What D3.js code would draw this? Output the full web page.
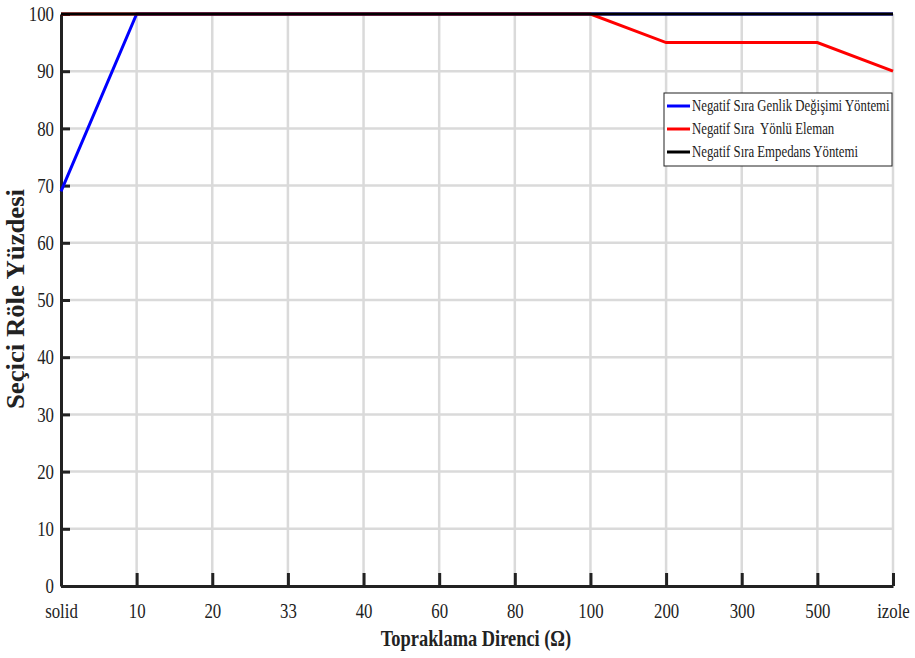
<!DOCTYPE html>
<html><head><meta charset="utf-8">
<script src="https://cdn.jsdelivr.net/npm/d3@7"></script>
<style>body{margin:0;background:#fff}</style>
</head><body><svg id="c" width="915" height="658"></svg>
<script>
const categories = ["solid","10","20","33","40","60","80","100","200","300","500","izole"];
const genlik = [69,100,100,100,100,100,100,100,100,100,100,100];
const yonlu = [100,100,100,100,100,100,100,100,95,95,95,90];
const empedans = [100,100,100,100,100,100,100,100,100,100,100,100];
const yTicks = [0,10,20,30,40,50,60,70,80,90,100];
const seriesNames = ["Negatif Sıra Genlik Değişimi Yöntemi","Negatif Sıra  Yönlü Eleman","Negatif Sıra Empedans Yöntemi"];
const seriesColors = ["#0000ff","#ff0000","#000000"];

const FONT = "Liberation Serif";
const SX = 0.8;
const m = {l:61, t:14, r:22, b:72};
const W = 915 - m.l - m.r, H = 658 - m.t - m.b;
const svg = d3.select("#c");
const g = svg.append("g").attr("transform",`translate(${m.l},${m.t})`);
const x = d3.scalePoint().domain(categories).range([0,W]);
const y = d3.scaleLinear().domain([0,100]).range([H,0]);

// grid
g.append("g").selectAll("line").data(categories.slice(1)).join("line")
  .attr("x1",d=>x(d)).attr("x2",d=>x(d)).attr("y1",0).attr("y2",H)
  .attr("stroke","#dadada").attr("stroke-width",2.5);
g.append("g").selectAll("line").data(yTicks.slice(1)).join("line")
  .attr("x1",0).attr("x2",W).attr("y1",d=>y(d)).attr("y2",d=>y(d))
  .attr("stroke","#dadada").attr("stroke-width",2.5);

// axes
const ax = g.append("g").attr("transform",`translate(0,${H})`)
  .call(d3.axisBottom(x).tickSizeInner(-13).tickSizeOuter(0).tickPadding(20));
const ay = g.append("g").call(d3.axisLeft(y).tickValues(yTicks).tickSizeInner(-9).tickSizeOuter(0).tickPadding(7));
[ax,ay].forEach(a=>{
  a.attr("font-family",FONT);
  a.select(".domain").attr("stroke","#222").attr("stroke-width",3);
  a.selectAll(".tick line").attr("stroke","#222").attr("stroke-width",3);
  a.selectAll(".tick text").attr("font-size",21).attr("fill","#222")
    .style("font-family",FONT);
});
ax.selectAll(".tick text").attr("transform",`scale(${SX},1)`).attr("dy","0.55em");
ay.selectAll(".tick text").attr("transform",`scale(${SX},1)`).attr("x",-7/SX);

// lines
const line = d3.line().x((d,i)=>x(categories[i])).y(d=>y(d));
[genlik,yonlu,empedans].forEach((s,i)=>{
  g.append("path").datum(s).attr("d",line).attr("fill","none")
   .attr("stroke",seriesColors[i]).attr("stroke-width",3);
});

// axis titles
svg.append("text").attr("transform",`translate(476,646) scale(${SX},1)`)
  .attr("text-anchor","middle").attr("font-size",23).attr("font-weight","bold").attr("fill","#222")
  .style("font-family",FONT).text("Topraklama Direnci (Ω)");
svg.append("text").attr("transform",`translate(24,299) rotate(-90)`)
  .attr("text-anchor","middle").attr("font-size",25).attr("font-weight","bold").attr("fill","#222")
  .attr("textLength",220).attr("lengthAdjust","spacingAndGlyphs")
  .style("font-family",FONT).text("Seçici Röle Yüzdesi");

// legend
const lg = svg.append("g").attr("transform","translate(664,93)");
lg.append("rect").attr("width",228).attr("height",73).attr("fill","#fff").attr("stroke","#222").attr("stroke-width",1);
seriesNames.forEach((n,i)=>{
  const yy = 13 + i*23;
  lg.append("line").attr("x1",3).attr("x2",26).attr("y1",yy).attr("y2",yy)
    .attr("stroke",seriesColors[i]).attr("stroke-width",3);
  lg.append("text").attr("transform",`translate(28,${yy+5}) scale(${SX},1)`)
    .attr("font-size",16).attr("fill","#222").style("font-family",FONT).style("white-space","pre").text(n);
});
</script></body></html>
